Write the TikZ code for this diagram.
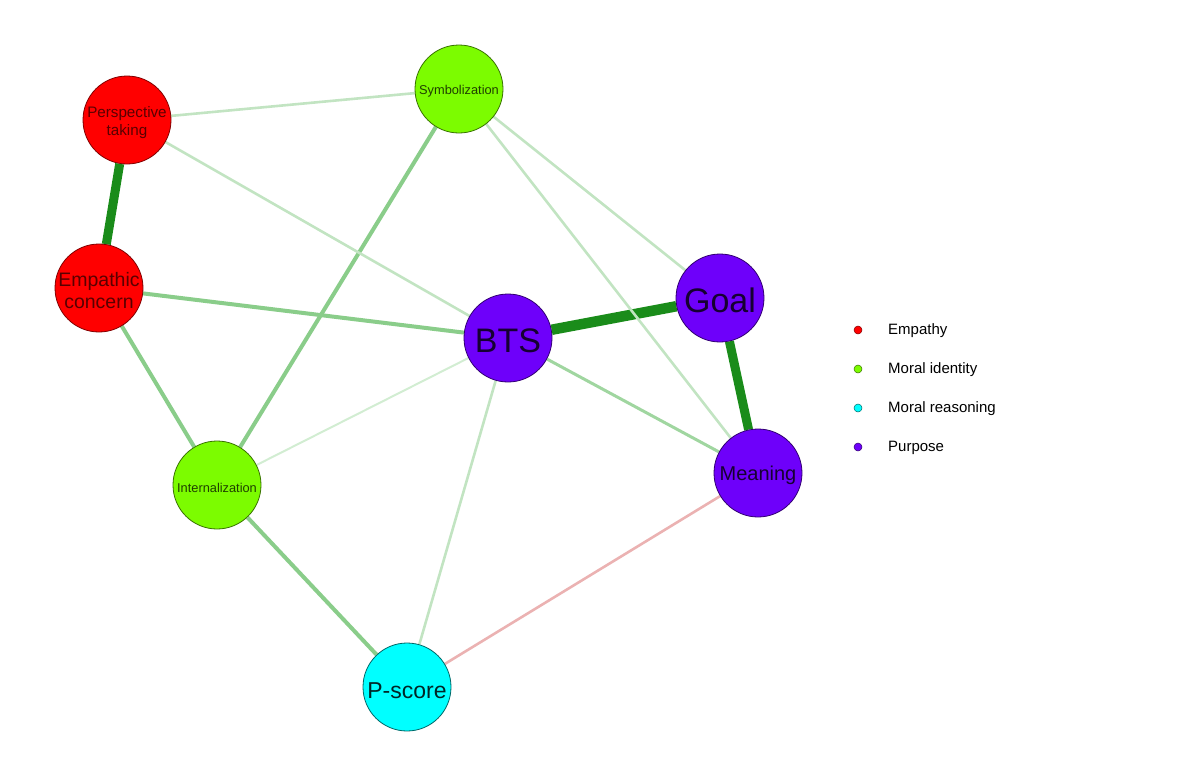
\documentclass[tikz,border=0pt]{standalone}
\usepackage{fontspec}
\setmainfont{Liberation Sans}
\usetikzlibrary{backgrounds}
\definecolor{cEmp}{HTML}{FF0000}
\definecolor{cMor}{HTML}{7CFC00}
\definecolor{cRea}{HTML}{00FFFF}
\definecolor{cPur}{HTML}{6E00FA}
\definecolor{eStrong}{HTML}{1A8C1A}
\definecolor{eMed}{HTML}{8ACD8A}
\definecolor{eLight}{HTML}{C2E4C2}
\definecolor{eFaint}{HTML}{D2EDD2}
\definecolor{eNeg}{HTML}{EBB2B2}
\tikzset{
  x=1pt,y=-1pt,
  vnode/.style={circle,minimum size=88pt,inner sep=0pt,line width=0.8pt},
  lab/.style={align=center,inner sep=0pt,yshift=-2.5pt},
  emp/.style={vnode,fill=cEmp,draw=cEmp!50!black},
  mor/.style={vnode,fill=cMor,draw=cMor!45!black},
  rea/.style={vnode,fill=cRea,draw=cRea!40!black},
  pur/.style={vnode,fill=cPur,draw=cPur!45!black},
  empt/.style={lab,text=cEmp!35!black},
  mort/.style={lab,text=cMor!25!black},
  reat/.style={lab,text=cRea!15!black},
  purt/.style={lab,text=cPur!20!black},
  strong/.style={draw=eStrong,line width=9pt},
  med/.style={draw=eMed,line width=4pt},
  light/.style={draw=eLight,line width=2.6pt},
  faint/.style={draw=eFaint,line width=2pt},
  neg/.style={draw=eNeg,line width=2.6pt},
  legdot/.style={circle,minimum size=8pt,inner sep=0pt,line width=0.5pt},
  legtxt/.style={anchor=west,font=\fontsize{15}{17}\selectfont,inner sep=0pt}
}
\begin{document}
\begin{tikzpicture}
\useasboundingbox (0,0) rectangle (1200,777);
\node[emp,label={[empt,font=\fontsize{15.2}{18.5}\selectfont]center:{Perspective\\taking}}] (pt) at (127,120) {};
\node[emp,label={[empt,font=\fontsize{19.5}{22}\selectfont]center:{Empathic\\concern}}] (ec) at (99,288) {};
\node[mor,label={[mort,font=\fontsize{12.8}{14}\selectfont]center:{Symbolization}}] (sy) at (459,89) {};
\node[mor,label={[mort,font=\fontsize{12.8}{14}\selectfont]center:{Internalization}}] (in) at (217,485) {};
\node[pur,label={[purt,font=\fontsize{34}{36}\selectfont]center:{BTS}}] (bts) at (508,338) {};
\node[pur,label={[purt,font=\fontsize{34}{36}\selectfont]center:{Goal}}] (go) at (720,298) {};
\node[pur,label={[purt,font=\fontsize{20}{22}\selectfont]center:{Meaning}}] (me) at (758,473) {};
\node[rea,label={[reat,font=\fontsize{23}{25}\selectfont,yshift=-1pt]center:{P-score}}] (ps) at (407,687) {};
\begin{pgfonlayer}{background}
\draw[strong] (pt) -- (ec);
\draw[strong,line width=10.5pt] (bts) -- (go);
\draw[strong] (go) -- (me);
\draw[med] (ec) -- (bts);
\draw[med] (ec) -- (in);
\draw[med] (sy) -- (in);
\draw[med] (in) -- (ps);
\draw[light] (pt) -- (sy);
\draw[light] (pt) -- (bts);
\draw[light] (sy) -- (go);
\draw[light] (sy) -- (me);
\draw[light,draw=eMed!60!eLight,line width=3pt] (bts) -- (me);
\draw[faint] (bts) -- (in);
\draw[light] (bts) -- (ps);
\draw[neg] (me) -- (ps);
\end{pgfonlayer}
\node[legdot,fill=cEmp,draw=cEmp!50!black] (l1) at (858,330) {};
\node[legdot,fill=cMor,draw=cMor!45!black] (l2) at (858,369) {};
\node[legdot,fill=cRea,draw=cRea!40!black] (l3) at (858,408) {};
\node[legdot,fill=cPur,draw=cPur!45!black] (l4) at (858,447) {};
\node[legtxt] (t1) at (888,331) {Empathy};
\node[legtxt] (t2) at (888,370) {Moral identity};
\node[legtxt] (t3) at (888,409) {Moral reasoning};
\node[legtxt] (t4) at (888,448) {Purpose};
\end{tikzpicture}
\end{document}
